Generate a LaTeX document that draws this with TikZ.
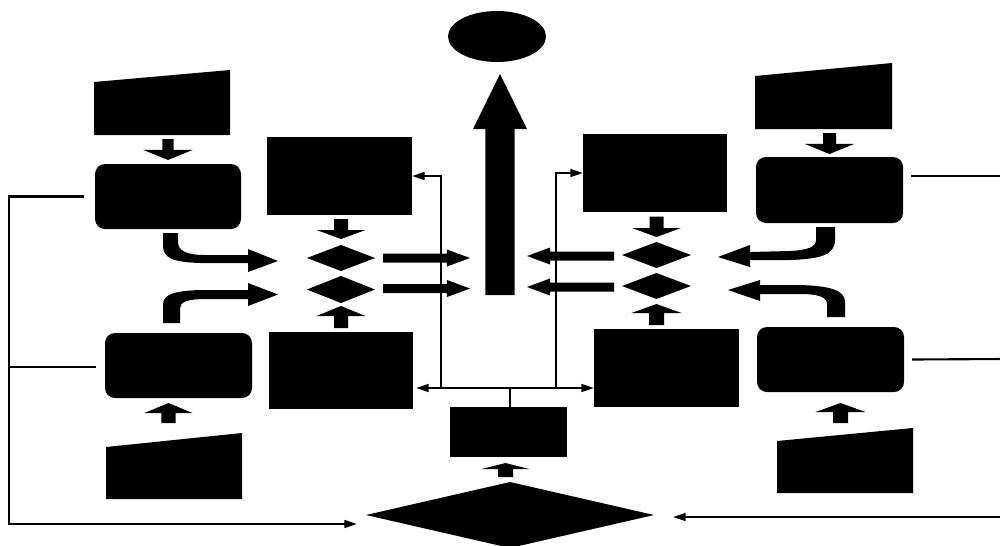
\documentclass[tikz,border=0pt]{standalone}
\usetikzlibrary{shapes.geometric,arrows.meta,calc}

% Solid block arrow from #1 to #2: half shaft width #3, half head width #4,
% head length #5 (all given in picture units of 0.01cm).
\newcommand\fatarrow[5]{%
  \fill let \p1=(#1), \p2=(#2),
        \n1={veclen(\x2-\x1,\y2-\y1)},
        \n2={(\x2-\x1)/\n1}, \n3={(\y2-\y1)/\n1},
        \n4={#3*0.28453}, \n5={#4*0.28453}, \n6={\n1-#5*0.28453} in
    ({\x1-(\n3)*(\n4)},{\y1+(\n2)*(\n4)})
    -- ({\x1+(\n2)*(\n6)-(\n3)*(\n4)},{\y1+(\n3)*(\n6)+(\n2)*(\n4)})
    -- ({\x1+(\n2)*(\n6)-(\n3)*(\n5)},{\y1+(\n3)*(\n6)+(\n2)*(\n5)})
    -- (\p2)
    -- ({\x1+(\n2)*(\n6)+(\n3)*(\n5)},{\y1+(\n3)*(\n6)-(\n2)*(\n5)})
    -- ({\x1+(\n2)*(\n6)+(\n3)*(\n4)},{\y1+(\n3)*(\n6)-(\n2)*(\n4)})
    -- ({\x1+(\n3)*(\n4)},{\y1-(\n2)*(\n4)}) -- cycle;}

% Manual-input shape filling node #1, its top edge sloping down #2 units to the left
\newcommand\manualin[2]{%
  \fill ($(#1.north west)+(0,#2)$) -- (#1.north east) -- (#1.south east)
        -- (#1.south west) -- cycle;}

\begin{document}
\begin{tikzpicture}[x=0.01cm,y=-0.01cm,
  sz/.style 2 args={minimum width=#1*0.01cm, minimum height=#2*0.01cm},
  blk/.style={fill=black, draw=none, inner sep=0pt, outer sep=0pt},
  proc/.style={blk, rectangle},
  rproc/.style={blk, rectangle, rounded corners=0.1cm},
  dec/.style={blk, diamond},
  term/.style={blk, ellipse},
  slot/.style={rectangle, draw=none, inner sep=0pt, outer sep=0pt},
  conn/.style={draw=black, line width=0.6pt},
  arr/.style={-{Triangle[length=3.6pt,width=2.2pt]}}
]
\useasboundingbox (0,0) rectangle (1000,545);
\fill[white] (0,0) rectangle (1000,545);

% goal
\node[term, sz={98}{51}] (goal) at (497,36.5) {};

% manual inputs
\node[slot, sz={136}{65}] (in1) at (162,102.5) {};
\node[slot, sz={136}{66}] (in2) at (174,466) {};
\node[slot, sz={137}{66}] (in3) at (823.5,96) {};
\node[slot, sz={136}{65}] (in4) at (845,460.5) {};
\manualin{in1}{12}
\manualin{in2}{14}
\manualin{in3}{13}
\manualin{in4}{13}

% rounded process boxes
\node[rproc, sz={146}{65}] (r1) at (168,196.5) {};
\node[rproc, sz={147}{65}] (r2) at (178.5,365.5) {};
\node[rproc, sz={147}{66}] (r3) at (829.5,190) {};
\node[rproc, sz={147}{65}] (r4) at (830.5,359.5) {};

% process boxes
\node[proc, sz={145}{78}] (p1) at (339.5,176) {};
\node[proc, sz={144}{77}] (p2) at (341,370.5) {};
\node[proc, sz={144}{78}] (p3) at (655,173) {};
\node[proc, sz={145}{78}] (p4) at (666.5,368) {};
\node[proc, sz={117}{50}] (c) at (508.5,432) {};

% decisions
\node[dec, sz={68}{26}] (d1) at (341,258) {};
\node[dec, sz={68}{27}] (d2) at (341,289.5) {};
\node[dec, sz={69}{26}] (d3) at (656.5,255) {};
\node[dec, sz={69}{26}] (d4) at (656.5,286) {};
\node[dec, sz={288}{66}] (D) at (510,515) {};

% short block arrows
\fatarrow{$(in1.south -| r1.north)+(0,4)$}{$(r1.north)+(0,-4)$}{5.5}{24.5}{10}
\fatarrow{$(in3.south -| r3.north)+(0,4)$}{$(r3.north)+(0,-3)$}{6.5}{24.5}{10}
\fatarrow{$(p1.south -| d1.north)+(0,4)$}{$(d1.north)+(0,-6)$}{7}{24.5}{9}
\fatarrow{$(p3.south -| d3.north)+(0,4.5)$}{$(d3.north)+(0,-5)$}{7}{24.5}{9}
\fatarrow{$(p2.north -| d2.south)+(0,-4)$}{$(d2.south)+(0,3)$}{7}{24.5}{10}
\fatarrow{$(p4.north -| d4.south)+(0,-4)$}{$(d4.south)+(0,5)$}{7.5}{25}{9}
\fatarrow{$(r2.south)+(-10,25)$}{$(r2.south)+(-10,5)$}{7}{24}{10}
\fatarrow{$(r4.south)+(10,31)$}{$(r4.south)+(10,11)$}{7.5}{25}{9}
\fatarrow{$(c.south)+(-3,20)$}{$(c.south)+(-3,6)$}{7.5}{24}{6}

% block arrows into the central shaft
\fatarrow{$(d1.east)+(8,0)$}{$(d1.east)+(95,0)$}{4.5}{8.5}{23}
\fatarrow{$(d2.east)+(8,-1)$}{$(d2.east)+(95,-1)$}{4.5}{8.5}{23}
\fatarrow{$(d3.west)+(-8,1)$}{$(d3.west)+(-95,1)$}{4.5}{8.5}{23}
\fatarrow{$(d4.west)+(-8,1)$}{$(d4.west)+(-95,1)$}{4.5}{8.5}{23}

% main shaft up to the goal
\coordinate (shaft) at (500,295);
\fatarrow{shaft}{$(goal.south)+(3,12)$}{14.5}{27}{55}

% curved block arrows
\fill (163,233) -- (163,245) .. controls (163,258) and (172,262) .. (200,263)
  -- (248,263) -- (248,272) -- (278,261) -- (248,249) -- (248,255) -- (205,255)
  .. controls (185,255) and (178,250) .. (178,242) -- (178,233) -- cycle;
\fill (163,323) -- (163,305) .. controls (163,295) and (172,291) .. (200,290)
  -- (248,290) -- (248,283) -- (278,294.5) -- (248,306) -- (248,299) -- (205,299)
  .. controls (188,299) and (180,302) .. (180,308) -- (180,323) -- cycle;
\fill (835,227) -- (835,240) .. controls (835,255) and (820,259) .. (790,260)
  -- (750,260) -- (750,267) -- (718,257) -- (750,245) -- (750,252) -- (790,251)
  .. controls (808,250) and (816,247) .. (816,240) -- (816,227) -- cycle;
\fill (845,317) -- (845,302) .. controls (845,290) and (830,286) .. (800,285)
  -- (760,285) -- (760,280) -- (728,290) -- (760,301) -- (760,294) -- (800,294)
  .. controls (818,294) and (827,297) .. (827,304) -- (827,317) -- cycle;

% feedback loops
\coordinate (lb) at (9,524);
\coordinate (lm) at (9,367);
\coordinate (rt) at (1003,176);
\coordinate (rm) at (1003,359);
\coordinate (rb) at (1003,517);
\draw[conn, arr] ($(r1.west)+(-11,0)$) -| (lb) -- ($(D.west)+(-9,9)$);
\draw[conn] (lm) -- ($(r2.west)+(-9,1.5)$);
\draw[conn, arr] ($(r3.east)+(8,-14)$) -- (rt) -- (rb) -- ($(D.east)+(19,2)$);
\draw[conn] ($(r4.east)+(8,0)$) -- (rm);

% distribution from the central box
\coordinate (hub) at ($(c.north)+(1.5,-19)$);
\coordinate (jl) at (441,388);
\coordinate (jr) at (556,388);
\draw[conn] ($(c.north)+(1.5,0)$) -- (hub);
\draw[conn, arr] (hub) -- ($(p2.east |- hub)+(3,0)$);
\draw[conn, arr] (hub) -- (p4.west |- hub);
\draw[conn, arr] (jl) |- (p1.east);
\draw[conn, arr] (jr) |- (p3.west);
\end{tikzpicture}
\end{document}
